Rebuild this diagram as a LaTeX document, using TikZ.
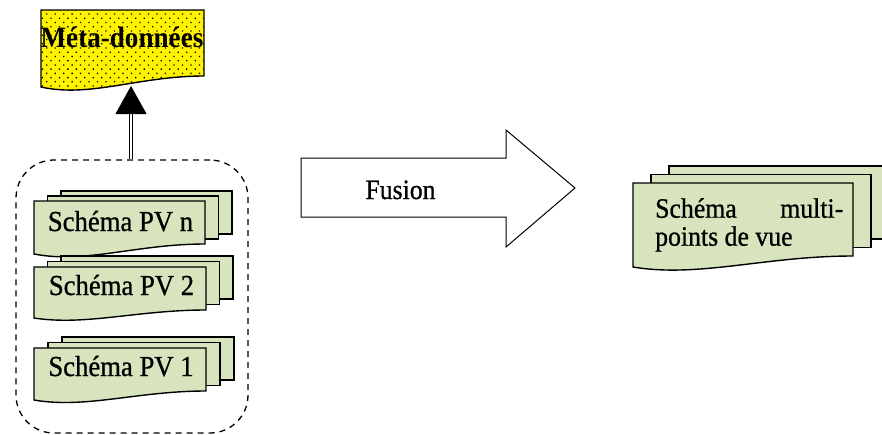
\documentclass[tikz,border=0pt]{standalone}
\usepackage{fontspec}
\setmainfont[FakeStretch=0.92]{Liberation Serif}
\newfontfamily\heavyserif[FakeStretch=0.92,FakeBold=0.8]{Liberation Serif}
\usetikzlibrary{arrows.meta,patterns.meta}

\definecolor{pagegreen}{HTML}{D7E4BD}

\tikzset{
  docpage/.style={fill=pagegreen, draw=black, line width=1.4pt, line join=miter},
  metapage/.style={preaction={fill=yellow}, pattern={Dots[distance=6pt,radius=0.9pt,angle=45]},
                   pattern color=black, draw=black, line width=1.4pt},
  groupbox/.style={draw=black, line width=1.3pt, dash pattern=on 6pt off 5pt,
                   rounded corners=38pt, inner sep=0pt},
  label/.style={font=\heavyserif\fontsize{29}{30}\selectfont, inner sep=0pt},
  blockarrow/.style={fill=white, draw=black, line width=1pt, line join=miter},
  uparrow/.style={draw=black, double=white, double distance=2.4pt, line width=1pt,
                  -{Triangle[width=31pt,length=28pt]}},
}

% front page with a wavy bottom: x0, y0, width, left height, right height
\newcommand{\wavypage}[6][docpage]{%
  \pgfmathsetmacro{\wpR}{#2+#4}%
  \pgfmathsetmacro{\wpyR}{#3+#6}%
  \pgfmathsetmacro{\wpyL}{#3+#5}%
  \pgfmathsetmacro{\wpcA}{#2+0.6*#4}%
  \pgfmathsetmacro{\wpcB}{#2+0.3*#4}%
  \pgfmathsetmacro{\wpcBy}{#3+#5+(#5-#6)}%
  \path[#1] (#2,#3) -- (\wpR,#3) -- (\wpR,\wpyR)
     .. controls (\wpcA,\wpyR) and (\wpcB,\wpcBy) .. (#2,\wpyL) -- cycle;
}

% stack of three pages: x0, y0, width, left height, right height, dx, dy
\newcommand{\pagestack}[7]{%
  \pgfmathsetmacro{\psxB}{#1+2*#6}\pgfmathsetmacro{\psyB}{#2+2*#7}%
  \pgfmathsetmacro{\psxA}{#1+#6}\pgfmathsetmacro{\psyA}{#2+#7}%
  \path[docpage] (\psxB,\psyB) rectangle ++(#3,#5);
  \path[docpage] (\psxA,\psyA) rectangle ++(#3,#5);
  \wavypage{#1}{#2}{#3}{#4}{#5}
}

\begin{document}
\begin{tikzpicture}[x=1pt,y=-1pt]
  \useasboundingbox (0,0) rectangle (882,434);

  % metadata document
  \wavypage[metapage]{41}{10}{163}{77}{66}
  \node[label, font=\fontsize{29.5}{30}\selectfont\bfseries, anchor=base] (meta) at (122,47) {Méta-données};
  \coordinate (metatip) at (131,86);

  % group of view schemas
  \node[groupbox, minimum width=232pt, minimum height=273pt] (views) at (132,296.5) {};

  \pagestack{34}{201}{171}{53}{43}{13.5}{-5}
  \node[label, anchor=base] (pvn) at (120.5,231) {Schéma PV n};

  \pagestack{34}{267}{172}{51}{43}{13.5}{-5.5}
  \node[label, anchor=base] (pv2) at (121.5,295) {Schéma PV 2};

  \pagestack{34}{348}{172}{52}{43}{14}{-5.5}
  \node[label, anchor=base] (pv1) at (121,376) {Schéma PV 1};

  % link to the metadata
  \draw[uparrow] (views.north -| metatip) -- (metatip);

  % fusion block arrow
  \path[blockarrow] (301,158) -- (506,158) -- (506,130) -- (575,188)
      -- (506,247) -- (506,217) -- (301,217) -- cycle;
  \node[label, font=\heavyserif\fontsize{28}{29}\selectfont, anchor=base] (fusion) at (400.5,199) {Fusion};

  % merged multi-view schema
  \pagestack{633}{183}{220}{84}{73}{18}{-8.5}
  \node[label, font=\heavyserif\fontsize{28}{29}\selectfont, anchor=north west, align=left] (multi) at (655,198)
     {\hbox to 188pt{Schéma\hfill multi-}\\[-1pt]points de vue};
\end{tikzpicture}
\end{document}
